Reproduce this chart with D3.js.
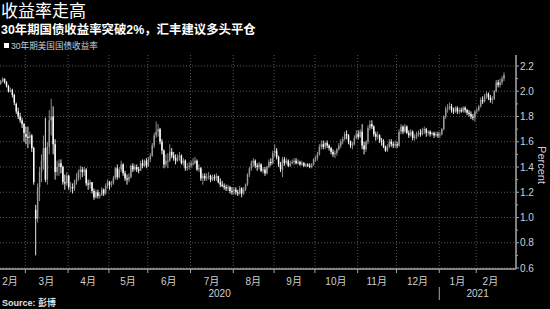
<!DOCTYPE html>
<html>
<head>
<meta charset="utf-8">
<script src="https://cdn.jsdelivr.net/npm/d3@7"></script>
<style>
  html, body { margin: 0; padding: 0; background: #000; }
  svg { display: block; }
</style>
</head>
<body>
<script>
// ---- data: one array per month, each day = [open, high, low, close] ----
var feb20 = [[2.06,2.09,2.05,2.08],[2.08,2.11,2.07,2.10],[2.10,2.10,2.06,2.07],[2.07,2.08,2.03,2.04],
  [2.04,2.05,1.99,2.00],[2.00,2.03,1.99,2.01],[2.01,2.02,1.95,1.97],[1.97,1.98,1.89,1.91],
  [1.90,1.91,1.82,1.84],[1.84,1.87,1.78,1.80],[1.80,1.83,1.75,1.77],[1.77,1.79,1.71,1.74],
  [1.74,1.75,1.60,1.67]];
var mar20 = [[1.66,1.72,1.58,1.64],[1.64,1.72,1.55,1.63],[1.63,1.68,1.58,1.65],[1.65,1.66,1.52,1.55],
  [1.55,1.56,1.26,1.28],[1.06,1.10,0.70,0.99],[0.99,1.27,0.96,1.24],[1.24,1.40,1.13,1.36],
  [1.36,1.50,1.28,1.45],[1.45,1.65,1.38,1.55],[1.55,1.79,1.28,1.30],[1.30,1.60,1.26,1.56],
  [1.56,1.85,1.50,1.77],[1.77,1.94,1.65,1.80],[1.80,1.88,1.50,1.58],[1.58,1.62,1.30,1.36],
  [1.36,1.45,1.33,1.40],[1.40,1.46,1.33,1.43],[1.43,1.46,1.35,1.40],[1.40,1.41,1.26,1.28],
  [1.28,1.34,1.22,1.27],[1.27,1.36,1.25,1.33]];
var apr20 = [[1.33,1.34,1.22,1.24],[1.24,1.28,1.20,1.24],[1.24,1.27,1.19,1.23],[1.23,1.30,1.21,1.28],
  [1.28,1.35,1.26,1.31],[1.31,1.38,1.29,1.36],[1.36,1.41,1.30,1.38],[1.38,1.40,1.32,1.36],
  [1.36,1.40,1.33,1.38],[1.38,1.39,1.25,1.27],[1.27,1.30,1.22,1.26],[1.26,1.30,1.23,1.28],
  [1.28,1.28,1.19,1.21],[1.21,1.23,1.14,1.16],[1.16,1.22,1.15,1.20],[1.20,1.22,1.15,1.17],
  [1.17,1.20,1.15,1.18],[1.18,1.24,1.17,1.22],[1.22,1.23,1.17,1.19],[1.19,1.27,1.18,1.25],
  [1.25,1.30,1.23,1.28]];
var may20 = [[1.28,1.29,1.22,1.26],[1.26,1.29,1.24,1.27],[1.27,1.33,1.26,1.31],[1.31,1.40,1.30,1.39],
  [1.39,1.42,1.30,1.32],[1.32,1.40,1.31,1.38],[1.38,1.45,1.36,1.42],[1.42,1.43,1.33,1.35],
  [1.35,1.37,1.29,1.31],[1.31,1.34,1.26,1.30],[1.30,1.35,1.28,1.32],[1.32,1.42,1.31,1.41],
  [1.41,1.43,1.36,1.38],[1.38,1.42,1.37,1.40],[1.40,1.42,1.36,1.38],[1.38,1.40,1.35,1.37],
  [1.37,1.45,1.37,1.43],[1.43,1.46,1.39,1.41],[1.41,1.46,1.40,1.45],[1.45,1.47,1.39,1.41]];
var jun20 = [[1.41,1.48,1.40,1.46],[1.46,1.51,1.44,1.49],[1.49,1.59,1.48,1.57],[1.57,1.67,1.55,1.65],
  [1.65,1.76,1.63,1.68],[1.68,1.74,1.64,1.70],[1.70,1.71,1.58,1.60],[1.60,1.62,1.50,1.53],
  [1.53,1.54,1.39,1.42],[1.42,1.50,1.40,1.45],[1.45,1.51,1.39,1.45],[1.45,1.58,1.44,1.52],
  [1.52,1.55,1.47,1.49],[1.49,1.52,1.45,1.47],[1.47,1.50,1.42,1.45],[1.45,1.50,1.44,1.48],
  [1.48,1.52,1.45,1.49],[1.49,1.50,1.42,1.43],[1.43,1.47,1.41,1.45],[1.45,1.46,1.37,1.39],
  [1.39,1.43,1.37,1.40],[1.40,1.44,1.38,1.41]];
var jul20 = [[1.41,1.45,1.39,1.43],[1.43,1.47,1.41,1.43],[1.43,1.48,1.42,1.45],[1.45,1.46,1.37,1.38],
  [1.38,1.42,1.36,1.39],[1.39,1.40,1.29,1.31],[1.31,1.35,1.26,1.33],[1.33,1.35,1.29,1.31],
  [1.31,1.35,1.29,1.32],[1.32,1.36,1.30,1.33],[1.33,1.34,1.28,1.30],[1.30,1.34,1.29,1.32],
  [1.32,1.34,1.29,1.31],[1.31,1.35,1.29,1.33],[1.33,1.33,1.27,1.28],[1.28,1.31,1.24,1.26],
  [1.26,1.29,1.24,1.25],[1.25,1.27,1.22,1.24],[1.24,1.26,1.21,1.23],[1.23,1.26,1.21,1.24],
  [1.24,1.25,1.19,1.21],[1.21,1.24,1.18,1.20]];
var aug20 = [[1.21,1.24,1.18,1.22],[1.22,1.24,1.18,1.20],[1.20,1.22,1.17,1.19],[1.19,1.25,1.18,1.23],
  [1.23,1.24,1.16,1.19],[1.19,1.24,1.18,1.22],[1.22,1.27,1.21,1.26],[1.26,1.35,1.25,1.34],
  [1.34,1.40,1.32,1.39],[1.39,1.45,1.37,1.43],[1.43,1.47,1.40,1.45],[1.45,1.46,1.39,1.41],
  [1.41,1.43,1.37,1.40],[1.40,1.44,1.38,1.42],[1.42,1.43,1.36,1.37],[1.37,1.40,1.35,1.38],
  [1.38,1.40,1.33,1.35],[1.35,1.41,1.34,1.40],[1.40,1.46,1.39,1.44],[1.44,1.47,1.41,1.43],
  [1.43,1.53,1.42,1.51]];
var sep20 = [[1.51,1.58,1.48,1.53],[1.53,1.55,1.46,1.48],[1.48,1.49,1.40,1.42],[1.42,1.44,1.36,1.38],
  [1.38,1.48,1.32,1.46],[1.46,1.48,1.41,1.43],[1.43,1.47,1.42,1.45],[1.45,1.46,1.40,1.41],
  [1.41,1.45,1.40,1.43],[1.43,1.46,1.42,1.44],[1.44,1.47,1.42,1.45],[1.45,1.47,1.42,1.43],
  [1.43,1.46,1.42,1.44],[1.44,1.45,1.41,1.42],[1.42,1.45,1.41,1.43],[1.43,1.44,1.40,1.41],
  [1.41,1.43,1.40,1.42],[1.42,1.43,1.40,1.41],[1.41,1.43,1.39,1.40],[1.40,1.43,1.39,1.42],
  [1.42,1.47,1.41,1.46]];
var oct20 = [[1.46,1.49,1.44,1.47],[1.47,1.52,1.45,1.50],[1.50,1.58,1.49,1.56],[1.56,1.61,1.54,1.58],
  [1.58,1.61,1.54,1.56],[1.56,1.60,1.54,1.59],[1.59,1.61,1.55,1.57],[1.57,1.58,1.53,1.55],
  [1.55,1.56,1.50,1.52],[1.52,1.54,1.48,1.50],[1.50,1.53,1.47,1.51],[1.51,1.55,1.49,1.54],
  [1.54,1.59,1.53,1.57],[1.57,1.62,1.55,1.60],[1.60,1.64,1.58,1.62],[1.62,1.68,1.61,1.66],
  [1.66,1.69,1.62,1.65],[1.65,1.66,1.58,1.60],[1.60,1.61,1.55,1.57],[1.57,1.60,1.54,1.58],
  [1.58,1.65,1.57,1.63],[1.63,1.69,1.62,1.66]];
var nov20 = [[1.66,1.69,1.62,1.64],[1.64,1.70,1.63,1.68],[1.68,1.74,1.54,1.57],[1.57,1.60,1.50,1.54],
  [1.54,1.61,1.52,1.60],[1.60,1.73,1.58,1.71],[1.71,1.77,1.69,1.74],[1.74,1.77,1.70,1.72],
  [1.72,1.73,1.64,1.66],[1.66,1.68,1.61,1.64],[1.64,1.68,1.62,1.65],[1.65,1.66,1.59,1.61],
  [1.61,1.63,1.57,1.60],[1.60,1.62,1.55,1.56],[1.56,1.57,1.52,1.53],[1.53,1.58,1.52,1.56],
  [1.56,1.62,1.55,1.60],[1.60,1.62,1.56,1.58],[1.58,1.60,1.55,1.57],[1.57,1.61,1.55,1.58]];
var dec20 = [[1.58,1.60,1.55,1.57],[1.57,1.70,1.56,1.68],[1.68,1.74,1.66,1.72],[1.72,1.73,1.66,1.68],
  [1.68,1.74,1.67,1.72],[1.72,1.73,1.66,1.67],[1.67,1.69,1.63,1.65],[1.65,1.70,1.64,1.68],
  [1.68,1.69,1.61,1.63],[1.63,1.66,1.61,1.64],[1.64,1.68,1.62,1.66],[1.66,1.69,1.64,1.67],
  [1.67,1.70,1.64,1.66],[1.66,1.71,1.65,1.69],[1.69,1.72,1.66,1.70],[1.70,1.71,1.64,1.67],
  [1.67,1.69,1.65,1.68],[1.68,1.69,1.64,1.66],[1.66,1.68,1.65,1.67],[1.67,1.68,1.63,1.65],
  [1.65,1.68,1.64,1.66],[1.66,1.68,1.63,1.65]];
var jan21 = [[1.65,1.68,1.63,1.66],[1.66,1.71,1.65,1.70],[1.70,1.81,1.69,1.80],[1.80,1.88,1.78,1.86],
  [1.86,1.90,1.83,1.87],[1.87,1.91,1.85,1.88],[1.88,1.90,1.83,1.85],[1.85,1.87,1.82,1.84],
  [1.84,1.88,1.83,1.87],[1.87,1.88,1.82,1.84],[1.84,1.87,1.82,1.85],[1.85,1.87,1.83,1.84],
  [1.84,1.88,1.83,1.87],[1.87,1.88,1.83,1.85],[1.85,1.86,1.81,1.83],[1.83,1.85,1.80,1.82],
  [1.82,1.84,1.78,1.80],[1.80,1.82,1.77,1.79],[1.79,1.85,1.76,1.84]];
var feb21 = [[1.84,1.87,1.82,1.85],[1.85,1.89,1.84,1.88],[1.88,1.95,1.87,1.93],[1.93,1.96,1.90,1.92],
  [1.92,1.98,1.91,1.96],[1.96,2.00,1.94,1.98],[1.98,1.99,1.93,1.95],[1.95,1.97,1.91,1.93],
  [1.93,1.96,1.90,1.94],[1.94,2.01,1.93,2.00],[2.00,2.09,1.99,2.07],[2.07,2.09,2.03,2.05],
  [2.05,2.10,2.03,2.07],[2.07,2.12,2.05,2.10],[2.10,2.15,2.08,2.13]];

var monthData = [feb20, mar20, apr20, may20, jun20, jul20, aug20, sep20, oct20, nov20, dec20, jan21, feb21];
var monthLabels = ["2月", "3月", "4月", "5月", "6月", "7月", "8月", "9月", "10月", "11月", "12月", "1月", "2月"];
var yearLabels = ["2020", "2021"];
var yearFirstMonth = [0, 11];
var yTicks = [0.6, 0.8, 1.0, 1.2, 1.4, 1.6, 1.8, 2.0, 2.2];
var yMinorTicks = [0.7, 0.9, 1.1, 1.3, 1.5, 1.7, 1.9, 2.1];

// ---- layout ----
var w = 550, h = 309;
var plotLeft = 0, plotRight = 516, plotTop = 55, plotBottom = 268;
var gridColor = "#555";
var axisColor = "#a8a8a8";
var textColor = "#cfcfcf";
var upColor = "#9a9a9a";
var downColor = "#ffffff";
var font = "'Liberation Sans', 'Noto Sans CJK SC', sans-serif";

// flatten days, keep month start index
var days = [];
var monthStart = [];
monthData.forEach(function (m) {
    monthStart.push(days.length);
    m.forEach(function (d) {
        days.push({i: days.length, o: d[0], h: d[1], l: d[2], c: d[3]});
    });
});
var n = days.length;

var svg = d3.select("body").append("svg")
    .attr("width", w)
    .attr("height", h)
    .style("background", "#000");

var xScale = d3.scaleLinear()
    .domain([0, n - 1])
    .range([0.7, 504]);
var yScale = d3.scaleLinear()
    .domain([0.6, 2.2])
    .range([268, 66]);
var step = xScale(1) - xScale(0);

// ---- titles ----
svg.append("text")
    .attr("x", 1).attr("y", 17)
    .attr("font-family", font).attr("font-size", 17)
    .attr("fill", "#fff")
    .text("收益率走高");
svg.append("text")
    .attr("x", 1).attr("y", 33.5)
    .attr("font-family", font).attr("font-size", 12.4).attr("font-weight", "bold")
    .attr("fill", "#fff")
    .text("30年期国债收益率突破2%，汇丰建议多头平仓");
svg.append("rect")
    .attr("x", 4).attr("y", 43).attr("width", 5).attr("height", 5)
    .attr("fill", "#fff");
svg.append("text")
    .attr("x", 11).attr("y", 49)
    .attr("font-family", font).attr("font-size", 8.6)
    .attr("fill", textColor)
    .text("30年期美国国债收益率");

// ---- grid ----
var monthEdge = monthStart.map(function (s) { return xScale(s) - 0.6; });
svg.append("g").selectAll("line")
    .data(yTicks)
    .join("line")
    .attr("x1", plotLeft).attr("x2", plotRight)
    .attr("y1", function (d) { return yScale(d); })
    .attr("y2", function (d) { return yScale(d); })
    .attr("stroke", gridColor)
    .attr("stroke-dasharray", "1,2");
svg.append("g").selectAll("line")
    .data(monthEdge.slice(1))
    .join("line")
    .attr("x1", function (d) { return d; }).attr("x2", function (d) { return d; })
    .attr("y1", plotTop).attr("y2", plotBottom)
    .attr("stroke", gridColor)
    .attr("stroke-dasharray", "1,2");

// ---- candles ----
var candle = svg.append("g").selectAll("g")
    .data(days)
    .join("g");
candle.append("line")
    .attr("x1", function (d) { return xScale(d.i); })
    .attr("x2", function (d) { return xScale(d.i); })
    .attr("y1", function (d) { return yScale(d.h); })
    .attr("y2", function (d) { return yScale(d.l); })
    .attr("stroke", function (d) { return d.c < d.o ? downColor : upColor; })
    .attr("stroke-width", 0.9);
candle.append("rect")
    .attr("x", function (d) { return xScale(d.i) - step * 0.38; })
    .attr("width", step * 0.76)
    .attr("y", function (d) { return yScale(Math.max(d.o, d.c)); })
    .attr("height", function (d) { return Math.max(1, Math.abs(yScale(d.o) - yScale(d.c))); })
    .attr("fill", function (d) { return d.c < d.o ? downColor : upColor; });

// ---- right axis ----
var yAxis = svg.append("g")
    .attr("transform", "translate(" + plotRight + ",0)");
yAxis.append("line")
    .attr("x1", 0).attr("x2", 0)
    .attr("y1", plotTop).attr("y2", plotBottom + 1)
    .attr("stroke", axisColor).attr("stroke-width", 1.5);
yAxis.selectAll("line.major")
    .data(yTicks)
    .join("line")
    .attr("class", "major")
    .attr("x1", 0).attr("x2", 3)
    .attr("y1", function (d) { return yScale(d); })
    .attr("y2", function (d) { return yScale(d); })
    .attr("stroke", axisColor);
yAxis.selectAll("line.minor")
    .data(yMinorTicks)
    .join("line")
    .attr("class", "minor")
    .attr("x1", 0).attr("x2", 2)
    .attr("y1", function (d) { return yScale(d); })
    .attr("y2", function (d) { return yScale(d); })
    .attr("stroke", axisColor);
yAxis.selectAll("text")
    .data(yTicks)
    .join("text")
    .attr("x", 4)
    .attr("y", function (d) { return yScale(d); })
    .attr("dy", "0.35em")
    .attr("font-family", font).attr("font-size", 10)
    .attr("fill", textColor)
    .text(d3.format(".1f"));
svg.append("text")
    .attr("transform", "translate(538,165) rotate(90)")
    .attr("text-anchor", "middle")
    .attr("font-family", font).attr("font-size", 11)
    .attr("fill", textColor)
    .text("Percent");

// ---- bottom axis ----
svg.append("line")
    .attr("x1", plotLeft).attr("x2", plotRight)
    .attr("y1", plotBottom + 1).attr("y2", plotBottom + 1)
    .attr("stroke", axisColor).attr("stroke-width", 1.5);
svg.append("g").selectAll("line")
    .data(monthEdge.slice(1))
    .join("line")
    .attr("x1", function (d) { return d; }).attr("x2", function (d) { return d; })
    .attr("y1", plotBottom + 1).attr("y2", plotBottom + 5)
    .attr("stroke", axisColor);
svg.append("g").selectAll("text")
    .data(monthLabels)
    .join("text")
    .attr("x", function (d, i) {
        var a = monthStart[i];
        var b = (i + 1 < monthStart.length ? monthStart[i + 1] : n) - 1;
        return i == 0 ? 10 : (xScale(a) + xScale(b)) / 2;
    })
    .attr("y", 285)
    .attr("text-anchor", "middle")
    .attr("font-family", font).attr("font-size", 10)
    .attr("fill", textColor)
    .text(function (d) { return d; });
svg.append("g").selectAll("text")
    .data(yearLabels)
    .join("text")
    .attr("x", function (d, i) {
        var a = i == 0 ? plotLeft : monthEdge[yearFirstMonth[i]];
        var b = i + 1 < yearFirstMonth.length ? monthEdge[yearFirstMonth[i + 1]] : plotRight;
        return (a + b) / 2;
    })
    .attr("y", 297)
    .attr("text-anchor", "middle")
    .attr("font-family", font).attr("font-size", 10)
    .attr("fill", textColor)
    .text(function (d) { return d; });
svg.append("line")
    .attr("x1", monthEdge[yearFirstMonth[1]]).attr("x2", monthEdge[yearFirstMonth[1]])
    .attr("y1", 287).attr("y2", 300)
    .attr("stroke", axisColor);

// ---- source ----
svg.append("text")
    .attr("x", 2).attr("y", 306)
    .attr("font-family", font).attr("font-size", 9).attr("font-weight", "bold")
    .attr("fill", "#e0e0e0")
    .text("Source: 彭博");
</script>
</body>
</html>
